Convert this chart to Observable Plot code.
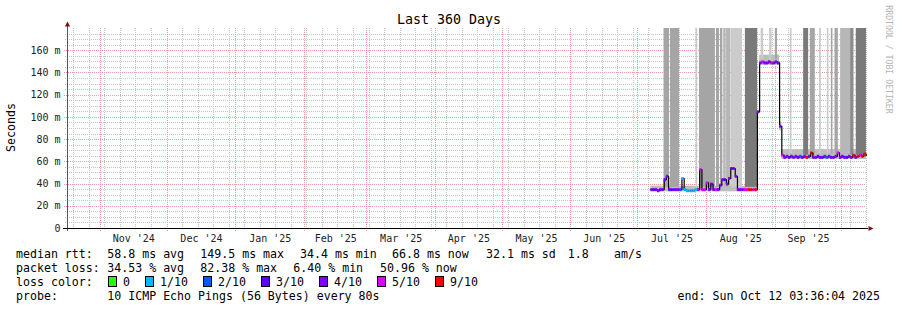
<!DOCTYPE html>
<html><head><meta charset="utf-8">
<script src="https://cdn.jsdelivr.net/npm/d3@7"></script>
<script src="https://cdn.jsdelivr.net/npm/@observablehq/plot@0.6"></script>
<style>
html,body{margin:0;padding:0;background:#fff;overflow:hidden;}
#wrap{position:relative;width:897px;height:310px;background:#fff;font-family:"DejaVu Sans Mono",monospace;}
#chart svg{display:block;}
#legend{position:relative;width:897px;height:63px;font-size:11.6px;color:#000;}
#legend .t{position:absolute;white-space:pre;line-height:14px;}
#legend .sq{position:absolute;width:9px;height:11px;box-sizing:border-box;border:1px solid #000;}
</style></head>
<body><div id="wrap"><div id="chart"></div><div id="legend"></div></div>
<script>
// ---------------- data ----------------
const startTime = new Date("2024-10-17T03:36:04Z");
const endTime = new Date("2025-10-12T03:36:04Z");
const firstDay = "2025-07-07";
const yMax = 180; // ms
const yLabelTicks = [0, 20, 40, 60, 80, 100, 120, 140, 160];

// daily median rtt (ms), Jul 7 .. Oct 12 2025
const medianMs = [
  // Jul 7-31
  35,35,35,34,35,35,44,47,35,35,35,35,35,35,45,35,34,34,34,34,35,35,53,35,35,
  // Aug 1-31
  41,35,40,35,35,35,39,44,44,40,45,54,54,47,35,35,35,35,35,35,35,35,35,105,149,150,149,149,150,149,149,
  // Sep 1-30
  150,149,92,66,64,65,64,65,64,65,64,65,64,65,64,65,68,64,64,65,64,64,65,64,65,64,64,65,68,64,
  // Oct 1-12
  65,64,64,65,64,66,64,65,66,65,67,66
];
// daily packet loss (out of 10 pings)
const lossTenths = [
  4,3,4,4,3,4,4,4,4,3,4,4,4,2,1,1,1,1,1,1,1,5,5,5,5,
  5,4,3,4,5,4,4,4,3,4,4,3,4,4,4,4,4,5,5,9,9,5,9,4,4,5,4,4,4,5,4,
  4,4,4,5,4,4,3,4,4,4,3,2,4,4,9,4,9,4,4,3,4,4,4,2,4,4,4,4,5,4,
  4,4,3,4,4,9,4,9,5,9,9,9
];
const lossLevels = [0, 1, 2, 3, 4, 5, 9];
const lossLabels = ["0", "1/10", "2/10", "3/10", "4/10", "5/10", "9/10"];
const lossColors = ["#26ff00", "#00b8ff", "#0059ff", "#5e00ff", "#7e00ff", "#dd00ff", "#ff0000"];

// smoke: tall ping-spread columns [from, to, density level 1..5, low ms]
const smokeCols = [
  ["2025-07-12T22:00Z","2025-07-15T10:00Z",3,37],
  ["2025-07-15T20:00Z","2025-07-19T22:00Z",3,37],
  ["2025-07-27T10:00Z","2025-07-28T02:00Z",1,37],
  ["2025-07-28T22:00Z","2025-08-05T02:00Z",3,37],
  ["2025-08-05T13:00Z","2025-08-06T22:00Z",3,37],
  ["2025-08-07T08:00Z","2025-08-08T10:00Z",3,37],
  ["2025-08-08T19:00Z","2025-08-09T22:00Z",2,37],
  ["2025-08-10T01:00Z","2025-08-12T02:00Z",2,37],
  ["2025-08-12T07:00Z","2025-08-17T06:00Z",1,37],
  ["2025-08-18T14:00Z","2025-08-24T02:00Z",5,37],
  ["2025-08-25T16:00Z","2025-08-26T20:00Z",1,152],
  ["2025-08-29T12:00Z","2025-08-30T14:00Z",1,152],
  ["2025-09-01T02:00Z","2025-09-02T02:00Z",3,152],
  ["2025-09-07T20:00Z","2025-09-08T14:00Z",1,67],
  ["2025-09-13T20:00Z","2025-09-16T02:00Z",5,66],
  ["2025-09-16T20:00Z","2025-09-19T02:00Z",3,66],
  ["2025-09-21T00:00Z","2025-09-21T19:00Z",1,67],
  ["2025-09-24T12:00Z","2025-09-25T06:00Z",1,67],
  ["2025-09-26T07:00Z","2025-09-27T01:00Z",3,67],
  ["2025-09-27T23:00Z","2025-09-29T11:00Z",3,67],
  ["2025-09-30T12:00Z","2025-10-05T00:00Z",2,66],
  ["2025-10-05T00:00Z","2025-10-06T12:00Z",4,66],
  ["2025-10-07T13:00Z","2025-10-12T03:36Z",5,66]
];
// smoke near the median [from, to, low ms, high ms]
const smokeBands = [
  ["2025-07-07T00:00Z","2025-08-24T00:00Z",33,38],
  ["2025-08-25T00:00Z","2025-09-03T00:00Z",147,156],
  ["2025-09-03T00:00Z","2025-09-04T00:00Z",88,96],
  ["2025-09-04T00:00Z","2025-10-12T03:36Z",62,71]
];

// legend statistics
const rttStats = [58.8, 149.5, 34.4, 66.8, 32.1];
const rttStatNames = ["avg", "max", "min", "now", "sd"];
const amPerS = 1.8;
const lossStats = [34.53, 82.38, 6.40, 50.96];
const lossStatNames = ["avg", "max", "min", "now"];
const probeText = "10 ICMP Echo Pings (56 Bytes) every 80s";
const endText = "end: Sun Oct 12 03:36:04 2025";
const titleText = "Last 360 Days";
const yTitle = "Seconds";
const watermark = "RRDTOOL / TOBI OETIKER";

// ---------------- styles / layout ----------------
const shadeColors = ["#cbcbcb", "#b7b7b7", "#a5a5a5", "#8c8c8c", "#7a7a7a"];
const gridGray = "#c4c4c4", gridRed = "#f29a9a", arrowColor = "#7f1111";

const rows = d3.utcDay.range(new Date(firstDay + "T00:00Z"), endTime).map((d, i) => ({
  start: d, end: d3.min([d3.utcDay.offset(d, 1), endTime]), median: medianMs[i], loss: lossTenths[i]
}));
const linePts = rows.map(r => ({t: r.start, v: r.median}))
  .concat([{t: rows[rows.length - 1].end, v: rows[rows.length - 1].median}]);

const monthStarts = d3.utcMonth.range(startTime, endTime);
const weekLines = d3.utcSunday.range(startTime, endTime).filter(d => !monthStarts.some(m => +m === +d));
const monthMids = monthStarts.map(m => new Date((+m + +d3.utcMonth.offset(m, 1)) / 2)).filter(d => d < endTime);
const yMinor = d3.range(5, yMax, 5).filter(v => v % 20 !== 0);
const yMajor = d3.range(20, yMax, 20);

const arrowUp = {draw(ctx) { ctx.moveTo(0, -3); ctx.lineTo(2.6, 2); ctx.lineTo(-2.6, 2); ctx.closePath(); }};
const arrowRight = {draw(ctx) { ctx.moveTo(3, 0); ctx.lineTo(-2, -2.6); ctx.lineTo(-2, 2.6); ctx.closePath(); }};
const P = s => new Date(s);

const chart = Plot.plot({
  width: 897, height: 247,
  marginTop: 28, marginBottom: 19, marginLeft: 67, marginRight: 31,
  style: {fontFamily: "DejaVu Sans Mono, monospace", fontSize: "10px", color: "#222", background: "#fff", overflow: "visible"},
  x: {type: "utc", domain: [startTime, endTime], axis: null},
  y: {domain: [0, yMax], axis: null},
  color: {type: "ordinal", domain: lossLevels, range: lossColors},
  marks: [
    Plot.ruleY(yMinor, {stroke: gridGray, strokeDasharray: "1,1", insetLeft: -2, shapeRendering: "crispEdges"}),
    Plot.ruleX(weekLines, {stroke: gridGray, strokeDasharray: "1,1", insetBottom: -2, shapeRendering: "crispEdges"}),
    Plot.ruleY(yMajor, {stroke: gridRed, strokeDasharray: "1,1", insetLeft: -3, shapeRendering: "crispEdges"}),
    Plot.ruleX(monthStarts, {stroke: gridRed, strokeDasharray: "1,1", insetBottom: -3, shapeRendering: "crispEdges"}),
    Plot.rect(smokeBands, {x1: d => P(d[0]), x2: d => P(d[1]), y1: d => d[2], y2: d => d[3], fill: "#bdbdbd"}),
    ...shadeColors.map((c, i) => Plot.rect(smokeCols.filter(d => d[2] === i + 1),
      {x1: d => P(d[0]), x2: d => P(d[1]), y1: d => d[3], y2: () => yMax, fill: c})),
    Plot.line(linePts, {x: "t", y: "v", curve: "step-after", stroke: "#000", strokeWidth: 1.2}),
    Plot.ruleY(rows, {x1: "start", x2: "end", y: "median", stroke: "loss", strokeWidth: 3}),
    Plot.ruleX([startTime], {stroke: "#555", insetTop: -4, insetBottom: -3, shapeRendering: "crispEdges"}),
    Plot.ruleY([0], {stroke: "#000", insetLeft: -4, insetRight: -2, shapeRendering: "crispEdges"}),
    Plot.dot([{t: startTime, v: yMax}], {x: "t", y: "v", symbol: arrowUp, r: 3, fill: arrowColor, stroke: "none", dy: -4}),
    Plot.dot([{t: endTime, v: 0}], {x: "t", y: "v", symbol: arrowRight, r: 3, fill: arrowColor, stroke: "none", dx: 4}),
    Plot.text(yLabelTicks, {frameAnchor: "left", y: d => d, text: d => d === 0 ? "0" : d + " m",
      textAnchor: "end", lineAnchor: "middle", dx: -7, fontSize: 10, fill: "#222"}),
    Plot.text(monthMids, {x: d => d, frameAnchor: "bottom", text: d3.utcFormat("%b '%y"),
      textAnchor: "middle", lineAnchor: "middle", dy: 10, fontSize: 10, fill: "#222"}),
    Plot.text([titleText], {frameAnchor: "top", textAnchor: "middle", lineAnchor: "middle", dx: -18, dy: -9, fontSize: 13.3, fill: "#000"}),
    Plot.text([yTitle], {frameAnchor: "left", textAnchor: "middle", lineAnchor: "middle", rotate: -90, dx: -56, dy: -1, fontSize: 11.6, fill: "#000"}),
    Plot.text([watermark], {frameAnchor: "top-right", textAnchor: "middle", lineAnchor: "middle", rotate: 90, dx: 22, dy: 31, fontSize: 8.2, fill: "#b4b4b4"})
  ]
});
document.getElementById("chart").appendChild(chart);

// ---------------- legend ----------------
const legend = document.getElementById("legend");
const rowTop = [0, 14, 28, 42];
function put(text, left, row) {
  const s = document.createElement("span");
  s.className = "t"; s.textContent = text;
  s.style.left = left + "px"; s.style.top = rowTop[row] + "px";
  legend.appendChild(s); return s;
}
const rttX = [107.3, 200.3, 300, 392, 486];
put("median rtt:", 16, 0);
rttStats.forEach((v, i) => put(v.toFixed(1) + " ms " + rttStatNames[i], rttX[i], 0));
put(amPerS.toFixed(1), 567.7, 0);
put("am/s", 614, 0);
const lossX = [107.3, 200.3, 293.3, 380];
put("packet loss:", 16, 1);
lossStats.forEach((v, i) => put(v.toFixed(2) + " % " + lossStatNames[i], lossX[i], 1));
put("loss color:", 16, 2);
let pos = 108.3;
lossLabels.forEach((lab, i) => {
  const sq = document.createElement("div");
  sq.className = "sq"; sq.style.left = pos + "px"; sq.style.top = (rowTop[2] + 1) + "px";
  sq.style.background = lossColors[i];
  legend.appendChild(sq);
  put(lab, pos + 14.7, 2);
  pos = pos + 14.7 + lab.length * 7 + 15.3;
});
put("probe:", 16, 3);
put(probeText, 107.3, 3);
const e = put(endText, 0, 3); e.style.left = ""; e.style.right = "17px";
</script></body></html>
